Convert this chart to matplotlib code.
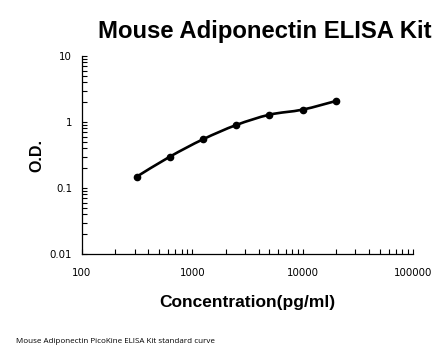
import numpy as np
import matplotlib
matplotlib.use("Agg")
import matplotlib.pyplot as plt
from matplotlib.path import Path
from matplotlib.patches import PathPatch
from matplotlib.ticker import LogLocator, NullFormatter, FixedLocator, FixedFormatter

# standard curve data
conc = [312.5, 625, 1250, 2500, 5000, 10000, 20000]
od = [0.148, 0.298, 0.547, 0.90, 1.29, 1.54, 2.08]

xticks = [100, 1000, 10000, 100000]
xticklabels = ["100", "1000", "10000", "100000"]
yticks = [0.01, 0.1, 1, 10]
yticklabels = ["0.01", "0.1", "1", "10"]

fig = plt.figure(figsize=(4.46, 3.56), dpi=100)
ax = fig.add_axes([82/446, 1-254/356, (413-82)/446, (254-56)/356])
ax.set_xscale("log")
ax.set_yscale("log")
ax.set_xlim(100, 100000)
ax.set_ylim(0.01, 10)

# smoothed line (catmull-rom style bezier in log space, like excel)
lx = np.log10(conc)
ly = np.log10(od)
pts = np.column_stack([lx, ly])
n = len(pts)
verts = [pts[0]]
codes = [Path.MOVETO]
for i in range(n - 1):
    p_prev = pts[i - 1] if i > 0 else pts[i]
    p_next2 = pts[i + 2] if i + 2 < n else pts[i + 1]
    c1 = pts[i] + (pts[i + 1] - p_prev) / 6
    c2 = pts[i + 1] - (p_next2 - pts[i]) / 6
    verts += [c1, c2, pts[i + 1]]
    codes += [Path.CURVE4] * 3
verts = 10 ** np.array(verts)
ax.add_patch(PathPatch(Path(verts, codes), fill=False, lw=1.9, ec="black",
                       capstyle="round", joinstyle="round"))
ax.plot(conc, od, "o", color="black", ms=4.5)

for s in ["top", "right"]:
    ax.spines[s].set_visible(False)
for s in ["left", "bottom"]:
    ax.spines[s].set_linewidth(0.9)

ax.xaxis.set_major_locator(FixedLocator(xticks))
ax.xaxis.set_major_formatter(FixedFormatter(xticklabels))
ax.yaxis.set_major_locator(FixedLocator(yticks))
ax.yaxis.set_major_formatter(FixedFormatter(yticklabels))
ax.xaxis.set_minor_locator(LogLocator(base=10, subs=np.arange(2, 10)))
ax.yaxis.set_minor_locator(LogLocator(base=10, subs=np.arange(2, 10)))
ax.xaxis.set_minor_formatter(NullFormatter())
ax.yaxis.set_minor_formatter(NullFormatter())
ax.tick_params(axis="both", which="both", direction="in", length=3.5, width=0.8)
ax.tick_params(axis="x", which="major", pad=10, labelsize=7.4)
ax.tick_params(axis="y", which="major", pad=7, labelsize=7.4)

fig.text(265/446, 1-38/356, "Mouse Adiponectin ELISA Kit", ha="center",
         va="baseline", fontsize=17.2, fontweight="bold", family="Liberation Sans")
fig.text(247/446, 1-307.3/356, "Concentration(pg/ml)", ha="center",
         va="baseline", fontsize=12.5, fontweight="bold", family="Liberation Sans")
fig.text(37/446, 1-156/356, "O.D.", ha="center", va="center", rotation=90,
         fontsize=11.5, fontweight="bold", family="Liberation Sans")
fig.text(16/446, 1-343.3/356, "Mouse Adiponectin PicoKine ELISA Kit standard curve",
         ha="left", va="baseline", fontsize=5.8, family="Open Sans")

fig.savefig("out.png", dpi=100)
